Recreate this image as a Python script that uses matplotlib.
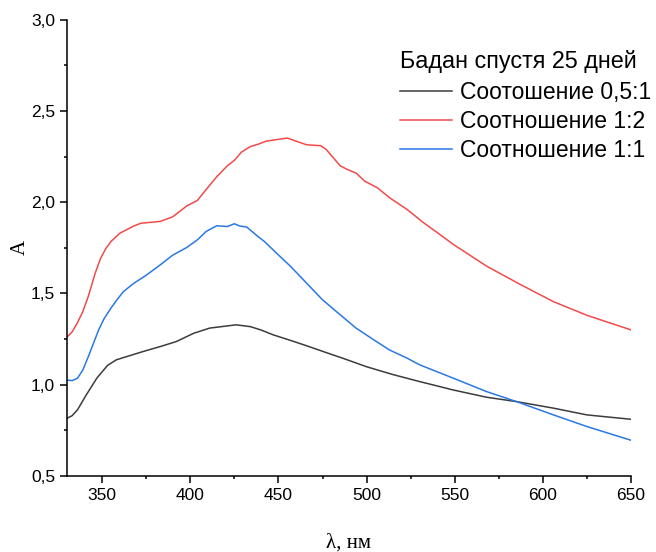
import matplotlib
matplotlib.use('Agg')
import matplotlib.pyplot as plt
from matplotlib.ticker import MultipleLocator, FuncFormatter

# Spectra (wavelength, nm -> absorbance)
wl_05_1 = [330, 333, 336, 341, 347, 353, 358, 364, 373, 383, 392, 402, 411, 421,
           426, 434, 440, 447, 457, 466, 477, 487, 500, 515, 530, 549, 568, 585,
           606, 625, 650]
a_05_1 = [0.815, 0.83, 0.862, 0.944, 1.036, 1.105, 1.136, 1.154, 1.181, 1.209,
          1.236, 1.282, 1.310, 1.322, 1.328, 1.318, 1.300, 1.273, 1.242, 1.213,
          1.176, 1.143, 1.098, 1.055, 1.017, 0.971, 0.931, 0.907, 0.871, 0.834,
          0.810]

wl_1_2 = [330, 333, 336, 339, 342, 346, 349, 352, 355, 360, 368, 372, 383, 390,
          398, 404, 409, 415, 421, 425, 429, 434, 439, 443, 450, 455, 460, 466,
          474, 477, 481, 485, 489, 494, 499, 506, 513, 523, 532, 542, 549, 568,
          587, 606, 625, 650]
a_1_2 = [1.26, 1.29, 1.34, 1.40, 1.48, 1.61, 1.69, 1.745, 1.785, 1.83, 1.87,
         1.885, 1.895, 1.92, 1.98, 2.01, 2.07, 2.14, 2.20, 2.23, 2.275, 2.305,
         2.32, 2.335, 2.345, 2.352, 2.335, 2.315, 2.31, 2.29, 2.245, 2.20, 2.18,
         2.16, 2.115, 2.08, 2.025, 1.96, 1.89, 1.82, 1.77, 1.65, 1.55, 1.455,
         1.38, 1.30]

wl_1_1 = [330, 333, 336, 339, 342, 345, 348, 351, 355, 358, 362, 368, 375, 383,
          390, 398, 404, 409, 415, 421, 425, 428, 432, 438, 442, 449, 457, 466,
          475, 485, 494, 504, 513, 523, 530, 549, 568, 585, 606, 625, 650]
a_1_1 = [1.025, 1.022, 1.035, 1.08, 1.15, 1.225, 1.30, 1.36, 1.42, 1.46, 1.51,
         1.556, 1.60, 1.657, 1.71, 1.752, 1.794, 1.84, 1.871, 1.867, 1.882,
         1.87, 1.864, 1.815, 1.785, 1.72, 1.647, 1.556, 1.465, 1.383, 1.31,
         1.246, 1.19, 1.145, 1.109, 1.036, 0.962, 0.907, 0.834, 0.77, 0.695]

series = [
    (wl_05_1, a_05_1, 'Соотошение 0,5:1', '#3c3c3c'),
    (wl_1_2, a_1_2, 'Соотношение 1:2', '#f24a4a'),
    (wl_1_1, a_1_1, 'Соотношение 1:1', '#2a78e4'),
]

plt.rcParams['font.family'] = ['Liberation Sans', 'DejaVu Sans']

fig = plt.figure(figsize=(6.56, 5.52), dpi=100)
ax = fig.add_axes([0.102, 0.138, 0.860, 0.826])

for x, y, label, color in series:
    ax.plot(x, y, color=color, lw=1.1, label=label)

ax.set_xlim(330, 650)
ax.set_ylim(0.5, 3.0)
ax.xaxis.set_major_locator(MultipleLocator(50))
ax.xaxis.set_minor_locator(MultipleLocator(25))
ax.yaxis.set_major_locator(MultipleLocator(0.5))
ax.yaxis.set_minor_locator(MultipleLocator(0.25))
ax.yaxis.set_major_formatter(FuncFormatter(lambda v, p: f'{v:.1f}'.replace('.', ',')))

for side in ('top', 'right'):
    ax.spines[side].set_visible(False)
for side in ('left', 'bottom'):
    ax.spines[side].set_linewidth(1.1)
ax.tick_params(which='major', direction='out', length=5, width=1.1, labelsize=12.5)
ax.tick_params(which='minor', direction='out', length=2.5, width=1.1)

ax.set_xlabel('λ, нм', family='Liberation Serif', fontsize=15, labelpad=22)
ax.set_ylabel('A', family='Liberation Serif', fontsize=15, labelpad=1)

leg = ax.legend(loc='upper left', bbox_to_anchor=(0.609, 0.91),
                bbox_transform=fig.transFigure, frameon=False, fontsize=16.5,
                title='Бадан спустя 25 дней', title_fontsize=16.8,
                handlelength=2.27, handletextpad=0.35, labelspacing=0.27,
                borderpad=0, borderaxespad=0)
leg._legend_box.align = 'left'
leg._legend_box.sep = 6

fig.savefig('out.png', dpi=100)
